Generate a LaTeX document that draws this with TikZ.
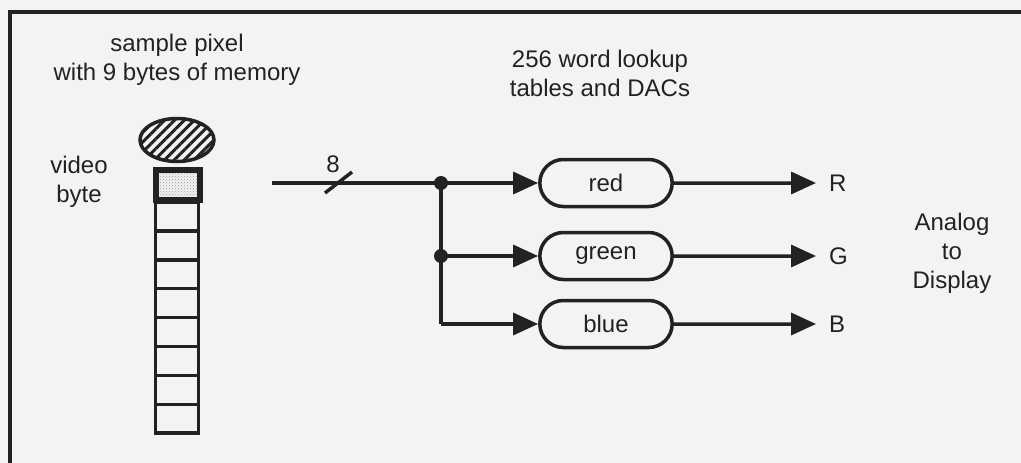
\documentclass[tikz,border=0pt]{standalone}
\usepackage{fontspec}
\setmainfont{Liberation Sans}
\usetikzlibrary{shapes.geometric, shapes.misc, arrows.meta, positioning, patterns, patterns.meta}

\definecolor{ink}{HTML}{222222}
\definecolor{paper}{HTML}{F3F3F3}

\begin{document}
\begin{tikzpicture}[
    x=1pt, y=-1pt,
    txt/.style={text=ink, align=center, font=\fontsize{24}{29}\selectfont},
    cell/.style={rectangle, draw=ink, line width=3.5pt, minimum width=43pt, minimum height=28.9pt, inner sep=0pt},
    vbyte/.style={rectangle, draw=ink, line width=5.5pt, minimum width=44pt, minimum height=30pt, inner sep=0pt, pattern=crosshatch dots, pattern color=gray!80},
    table/.style={rounded rectangle, draw=ink, line width=3.5pt, minimum width=139pt, minimum height=47pt, text=ink, font=\fontsize{24}{29}\selectfont},
    conn/.style={draw=ink, line width=3.5pt},
    tip/.style={-{Triangle[length=25pt, width=22pt]}},
    junction/.style={circle, fill=ink, minimum size=14pt, inner sep=0pt},
    outlbl/.style={txt, inner sep=0pt, anchor=west}
]
    \useasboundingbox (0,0) rectangle (1021,463);
    \fill[paper] (0,0) rectangle (1021,463);

    % --- Frame ---
    \draw[ink, line width=3.5pt] (1021,12) -- (10,12) -- (10,463);

    % --- Pixel and its memory column ---
    \node[txt] (pixtitle) at (177,60) {sample pixel\\with 9 bytes of memory};
    \node[ellipse, draw=ink, line width=3.5pt, minimum width=74pt, minimum height=43pt,
          pattern={Lines[angle=45, distance=7pt, line width=3pt]}, pattern color=ink] (pixel) at (177,140) {};
    \node[vbyte] (vbyte) at (178,185) {};
    \node[txt] (vbytelbl) at (79,182) {video\\byte};
    \foreach \i in {1,...,8} {
        \node[cell] (cell\i) at (177, {202 + 28.9*(\i-0.5)}) {};
    }

    % --- Lookup tables ---
    \node[txt] (lutitle) at (600,73) {256 word lookup\\tables and DACs};
    \node[table] (red) at (606,183) {red};
    \node[table] (green) at (606,256) {green};
    \node[table] (blue) at (606,324) {blue};

    % --- 8 bit bus and its branches ---
    \coordinate (in) at (272,183);
    \coordinate (bus) at (338,183);
    \node[junction] (j1) at (441,183) {};
    \node[junction] (j2) at (441,256) {};
    \draw[conn, tip] (in) -- (red.west);
    \draw[conn] ([shift={(-13,10)}]bus) -- ([shift={(14,-11)}]bus);
    \node[txt, inner sep=0pt] (buswidth) at (333,164) {8};
    \draw[conn] (j1.center) -- (j1.center |- blue.west);
    \draw[conn, tip] (j2.center) -- (green.west);
    \draw[conn, tip] (j1.center |- blue.west) -- (blue.west);

    % --- Analog outputs ---
    \node[outlbl] (R) at (829,183) {R};
    \node[outlbl] (G) at (829,256) {G};
    \node[outlbl] (B) at (829,324) {B};
    \draw[conn, tip, shorten >=13pt] (red) -- (R);
    \draw[conn, tip, shorten >=13pt] (green) -- (G);
    \draw[conn, tip, shorten >=13pt] (blue) -- (B);
    \node[txt] (analog) at (952,253) {Analog\\to\\Display};

\end{tikzpicture}
\end{document}
